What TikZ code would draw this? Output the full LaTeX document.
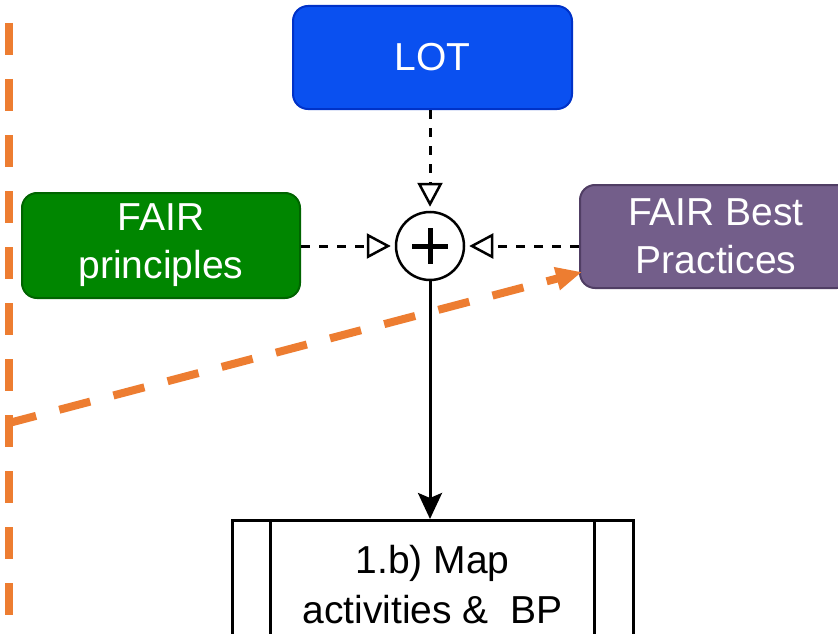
\documentclass[tikz,border=0pt]{standalone}
\usepackage{fontspec}
\setmainfont{Liberation Sans}
\usetikzlibrary{arrows.meta}
\definecolor{lotfill}{RGB}{10,80,240}
\definecolor{lotdraw}{RGB}{0,50,200}
\definecolor{grfill}{RGB}{0,134,0}
\definecolor{grdraw}{RGB}{0,100,0}
\definecolor{pufill}{RGB}{115,94,138}
\definecolor{pudraw}{RGB}{80,62,100}
\definecolor{orng}{RGB}{237,125,49}
\begin{document}
\begin{tikzpicture}[x=1pt,y=-1pt,
  colbox/.style={rectangle, rounded corners=15pt, line width=2pt, text=white,
    align=center, inner sep=0pt, font=\fontsize{39}{48}\selectfont},
  dconn/.style={line width=3pt, dash pattern=on 9pt off 9pt,
    -{Triangle[fill=white,length=24pt,width=25pt,line width=2.5pt]}, shorten >=4pt},
  orangeline/.style={draw=orng, line width=8pt, dash pattern=on 32pt off 24pt}
]
\useasboundingbox (0,0) rectangle (838,634);
\fill[white] (0,0) rectangle (838,634);

\node[colbox, fill=lotfill, draw=lotdraw, minimum width=279pt, minimum height=103pt] (lot) at (432.5,57.5) {LOT};
\node[colbox, fill=grfill, draw=grdraw, minimum width=278pt, minimum height=105pt] (fairp) at (161,245.5) {FAIR\\principles};
\node[colbox, fill=pufill, draw=pudraw, minimum width=272pt, minimum height=103pt] (fairbp) at (716,236.5) {FAIR Best\\Practices};

\node[circle, draw, line width=2.5pt, minimum size=68pt, inner sep=0pt] (plus) at (430,246) {};
\draw[line width=5pt] ([yshift=18pt]plus.center) -- ([yshift=-18pt]plus.center);
\draw[line width=5pt] ([xshift=-18pt]plus.center) -- ([xshift=18pt]plus.center);

\node[draw, line width=3pt, minimum width=401pt, minimum height=128pt, anchor=north,
  align=center, inner sep=0pt, font=\fontsize{39}{50}\selectfont] (map) at (432.5,519)
  {1.b) Map\\activities \& \ BP};
\draw[line width=3pt] ([xshift=40pt]map.north west) -- ([xshift=40pt]map.south west);
\draw[line width=3pt] ([xshift=-40pt]map.north east) -- ([xshift=-40pt]map.south east);

\draw[dconn] (lot.south -| plus.north) -- (plus.north);
\draw[dconn] (fairp.east |- plus.west) -- (plus.west);
\draw[dconn] (fairbp.west |- plus.east) -- (plus.east);
\draw[line width=3pt, -{Stealth[length=26pt,width=24pt,inset=5pt]}] (plus.south) -- (plus.south |- map.north);

\coordinate (otop) at (9,23);
\coordinate (obot) at (9,680);
\coordinate (ojoin) at (9,423);
\draw[orangeline] (otop) -- (obot);
\draw[orangeline, dash phase=4pt, -{Triangle[length=26pt,width=22pt,fill=orng]}] (ojoin) -- ([shift={(3,35.5)}]fairbp.west);
\end{tikzpicture}
\end{document}
